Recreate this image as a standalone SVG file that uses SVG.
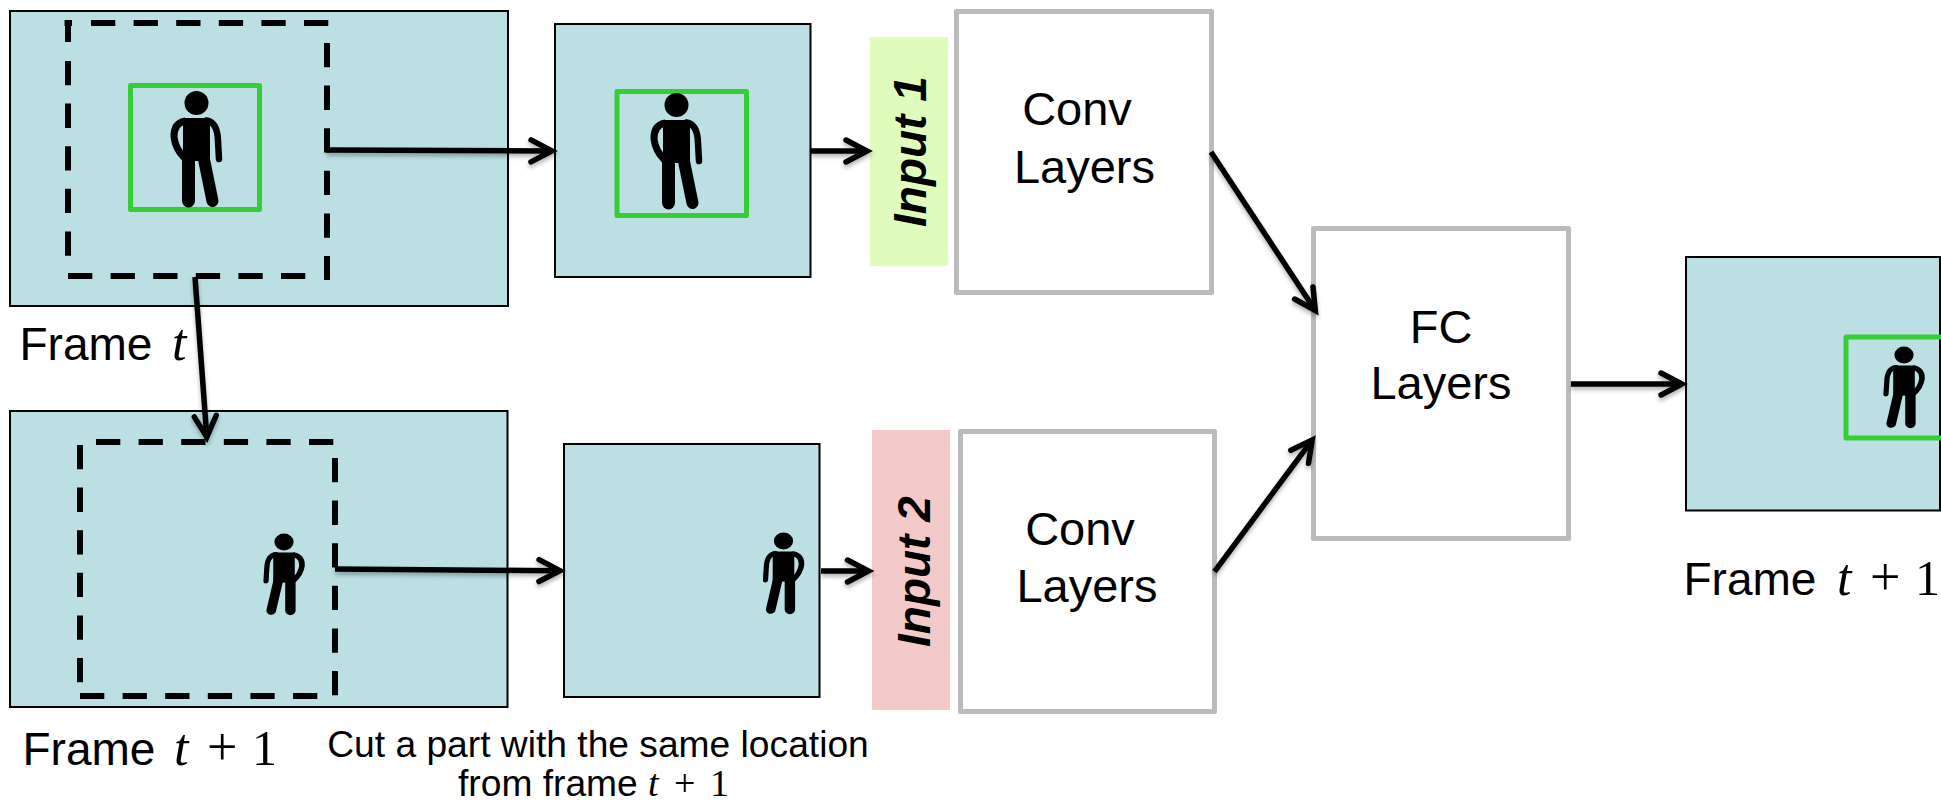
<svg xmlns="http://www.w3.org/2000/svg" width="1941" height="805" viewBox="0 0 1941 805">
<style>
.frame{fill:#bbdfe3;stroke:#000;stroke-width:2}
.dash{fill:none;stroke:#000;stroke-width:6}
.d1{stroke-dasharray:24.3 18.3}
.green{fill:none;stroke:#36cd36;stroke-width:5;stroke-linejoin:round}
.box{fill:#fff;stroke:#bbb;stroke-width:5;stroke-linejoin:round}
.t{font-family:"Liberation Sans",Arial,sans-serif;fill:#000}
.l{font-size:47px}
.f{font-size:46px}
.s{font-size:37.200px}
.i{font-size:46px;font-weight:bold;font-style:italic}
.m{font-family:"Liberation Serif","DejaVu Serif",serif}
.c{stroke:#000;stroke-width:5.500;fill:none;marker-end:url(#a)}
</style>
<defs>
<marker id="a" markerUnits="userSpaceOnUse" markerWidth="36" markerHeight="32" refX="21" refY="13" orient="auto" viewBox="0 0 36 32" overflow="visible"><path d="M3 2L24 13L3 24" fill="none" stroke="#000" stroke-width="5.500" stroke-linejoin="miter" stroke-linecap="round"/></marker>
<filter id="sh" x="-5%" y="-5%" width="110%" height="115%"><feDropShadow dx="0" dy="3" stdDeviation="2" flood-color="#000" flood-opacity=".3"/></filter>
<g id="p">
<circle cx="0" cy="0" r="12"/>
<path d="M-13.500 15H13.500V58H-13.500Z"/>
<path d="M-11 18Q-23 20 -22.500 34Q-21 46 -12 55" fill="none" stroke="#000" stroke-width="7"/>
<path d="M10 17.500Q21 19 21.500 38L22.500 56" fill="none" stroke="#000" stroke-width="6.500" stroke-linecap="round"/>
<path d="M-8 54V98" fill="none" stroke="#000" stroke-width="13" stroke-linecap="round"/>
<path d="M7 54L16 98" fill="none" stroke="#000" stroke-width="12" stroke-linecap="round"/>
</g>
</defs>
<g id="frame-t">
<rect class="frame" x="10" y="11" width="498" height="295"/>
<path class="dash d1" d="M68 42V23M64.500 23H72M68 61V256M68 276H306M91 23H329M327 43V280"/>
<rect class="green" x="130.500" y="85.500" width="129" height="124"/>
<use href="#p" transform="translate(196.500 103)"/>
<text class="t f" x="19.500" y="360">Frame <tspan class="m" font-style="italic" font-size="52" x="172">t</tspan></text>
</g>
<g id="crop-1">
<rect class="frame" x="555" y="24" width="255.500" height="253"/>
<rect class="green" x="617" y="91.500" width="129.500" height="124"/>
<use href="#p" transform="translate(676.500 105)"/>
</g>
<g id="input-1">
<rect x="870" y="37" width="78" height="229" fill="#e0fcbd"/>
<text class="t i" transform="translate(926 227) rotate(-90)">Input 1</text>
</g>
<g id="conv-1">
<rect class="box" x="956.500" y="11.500" width="255" height="281"/>
<text class="t l" x="1077" y="125" text-anchor="middle">Conv</text>
<text class="t l" x="1084.500" y="183" text-anchor="middle">Layers</text>
</g>
<g id="frame-t1">
<rect class="frame" x="10" y="411" width="497.500" height="296"/>
<path class="dash d1" d="M96 442H334M80 445V683M335 458V697M80 696H318"/>
<use href="#p" transform="translate(284 542) scale(-.8 .7)"/>
<text class="t f" x="22.500" y="765">Frame <tspan class="m" font-style="italic" font-size="52" x="174">t</tspan><tspan class="m" font-size="54" x="207">+</tspan><tspan class="m" font-size="50" x="252">1</tspan></text>
</g>
<g id="crop-2">
<rect class="frame" x="564" y="444" width="255.500" height="253"/>
<use href="#p" transform="translate(783.500 541) scale(-.8 .7)"/>
</g>
<g id="input-2">
<rect x="872" y="430" width="78" height="280" fill="#f3c9c9"/>
<text class="t i" transform="translate(929.500 647) rotate(-90)">Input 2</text>
</g>
<g id="conv-2">
<rect class="box" x="960.500" y="431.500" width="254" height="280"/>
<text class="t l" x="1080" y="544.500" text-anchor="middle">Conv</text>
<text class="t l" x="1087" y="602" text-anchor="middle">Layers</text>
</g>
<g id="fc">
<rect class="box" x="1313.500" y="228.500" width="255" height="310"/>
<text class="t l" x="1441" y="342.500" text-anchor="middle">FC</text>
<text class="t l" x="1441" y="399" text-anchor="middle">Layers</text>
</g>
<g id="output">
<rect class="frame" x="1686" y="257" width="254" height="253.500"/>
<rect class="green" x="1846" y="337" width="100" height="101"/>
<use href="#p" transform="translate(1904 355) scale(-.8 .7)"/>
<text class="t f" x="1683.500" y="595">Frame <tspan class="m" font-style="italic" font-size="52" x="1837">t</tspan><tspan class="m" font-size="54" x="1870">+</tspan><tspan class="m" font-size="50" x="1915">1</tspan></text>
</g>
<g id="caption">
<text class="t s" x="598" y="757" text-anchor="middle">Cut a part with the same location</text>
<text class="t s" x="458" y="796">from frame <tspan class="m" font-style="italic" font-size="38" x="648">t</tspan><tspan class="m" font-size="38" x="674">+</tspan><tspan class="m" font-size="38" x="710">1</tspan></text>
</g>
<g id="connectors" filter="url(#sh)">
<path class="c" d="M326 150L549 151"/>
<path class="c" d="M811 151H864"/>
<path class="c" d="M195 277L206.600 434"/>
<path class="c" d="M335 569L557 570.700"/>
<path class="c" d="M821 571H865.500"/>
<path class="c" d="M1211 152L1313.700 308"/>
<path class="c" d="M1214.500 571.600L1310.400 442.300"/>
<path class="c" d="M1571 384H1679"/>
</g>
</svg>
